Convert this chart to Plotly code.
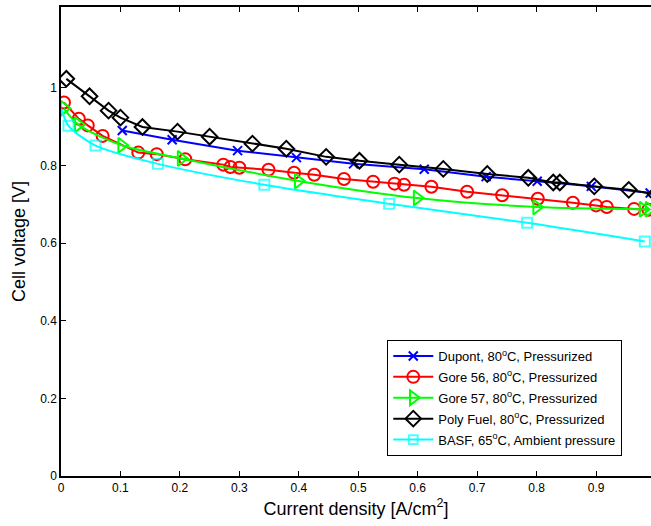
import plotly.graph_objects as go

# Polarization curves: current density [A/cm^2] vs cell voltage [V]
dupont_j = [0.103, 0.187, 0.297, 0.396, 0.492, 0.611, 0.715, 0.801, 0.892, 0.991]
dupont_v = [0.890, 0.866, 0.838, 0.820, 0.804, 0.790, 0.771, 0.759, 0.746, 0.729]

gore56_j = [0.005, 0.030, 0.045, 0.070, 0.130, 0.161, 0.209, 0.273, 0.285, 0.300,
            0.349, 0.392, 0.426, 0.476, 0.525, 0.561, 0.577, 0.623, 0.683, 0.742,
            0.802, 0.861, 0.900, 0.918, 0.964, 0.988]
gore56_v = [0.962, 0.920, 0.903, 0.876, 0.833, 0.829, 0.816, 0.802, 0.796, 0.794,
            0.789, 0.781, 0.776, 0.765, 0.758, 0.753, 0.750, 0.745, 0.732, 0.723,
            0.714, 0.704, 0.697, 0.693, 0.688, 0.686]

gore57_j = [0.005, 0.029, 0.102, 0.202, 0.399, 0.599, 0.800, 0.979, 0.989]
gore57_v = [0.947, 0.905, 0.852, 0.818, 0.760, 0.716, 0.693, 0.687, 0.687]

polyfuel_j = [0.009, 0.048, 0.080, 0.100, 0.137, 0.196, 0.250, 0.322, 0.379, 0.446,
              0.502, 0.569, 0.643, 0.717, 0.786, 0.828, 0.839, 0.897, 0.955, 1.000]
polyfuel_v = [1.023, 0.978, 0.941, 0.923, 0.899, 0.887, 0.874, 0.856, 0.843, 0.822,
              0.812, 0.802, 0.791, 0.778, 0.768, 0.756, 0.756, 0.746, 0.737, 0.726]

# BASF curve starts at zero current (no marker there)
basf_j = [0.001, 0.0126, 0.058, 0.163, 0.342, 0.552, 0.784, 0.982]
basf_v = [0.945, 0.902, 0.851, 0.804, 0.750, 0.701, 0.652, 0.604]
basf_marked = [False, True, True, True, True, True, True, True]

x_ticks = [0, 0.1, 0.2, 0.3, 0.4, 0.5, 0.6, 0.7, 0.8, 0.9]
y_ticks = [0, 0.2, 0.4, 0.6, 0.8, 1.0]
x_tick_text = ["0", "0.1", "0.2", "0.3", "0.4", "0.5", "0.6", "0.7", "0.8", "0.9"]
y_tick_text = ["0", "0.2", "0.4", "0.6", "0.8", "1"]

fig = go.Figure()

def add_series(name, x, y, color, symbol, size, shape="linear", marked=None):
    sizes = size if marked is None else [size if m else 0 for m in marked]
    fig.add_trace(go.Scatter(
        x=x, y=y, name=name, mode="lines+markers", legendgroup=name,
        line=dict(color=color, width=2, shape=shape, smoothing=0.8),
        marker=dict(symbol=symbol, size=sizes, color=color,
                    line=dict(color=color, width=2)),
    ))

add_series("Dupont, 80<sup>o</sup>C, Pressurized", dupont_j, dupont_v,
           "#0000FF", "x-thin-open", 9)
add_series("Gore 56, 80<sup>o</sup>C, Pressurized", gore56_j, gore56_v,
           "#FF0000", "circle-open", 12)
add_series("Gore 57, 80<sup>o</sup>C, Pressurized", gore57_j, gore57_v,
           "#00FF00", "triangle-right-open", 13, shape="spline")
add_series("Poly Fuel, 80<sup>o</sup>C, Pressurized", polyfuel_j, polyfuel_v,
           "#000000", "diamond-open", 12)
add_series("BASF, 65<sup>o</sup>C, Ambient pressure", basf_j, basf_v,
           "#00FFFF", "square-open", 10, shape="spline", marked=basf_marked)

font_family = "Liberation Sans, Arial, sans-serif"

fig.update_layout(
    width=651, height=526,
    margin=dict(l=61, r=0, t=7, b=50),
    paper_bgcolor="white", plot_bgcolor="white",
    font=dict(family=font_family, size=12, color="#000000"),
    showlegend=True,
    legend=dict(
        x=0.553, y=0.29, xanchor="left", yanchor="top",
        bgcolor="white", bordercolor="#000000", borderwidth=1,
        font=dict(family=font_family, size=13, color="#000000"),
        traceorder="grouped", tracegroupgap=1,
        itemwidth=40,
    ),
    xaxis=dict(
        range=[0, 0.9924], tickvals=x_ticks, ticktext=x_tick_text,
        ticks="inside", ticklen=5, tickwidth=1, tickcolor="#000000",
        showline=True, linecolor="#000000", linewidth=1.5, mirror="ticks",
        showgrid=False, zeroline=False,
        title=dict(text="Current density [A/cm<sup>2</sup>]",
                   font=dict(family=font_family, size=18),
                   standoff=8),
    ),
    yaxis=dict(
        range=[0, 1.208], tickvals=y_ticks, ticktext=y_tick_text,
        ticks="inside", ticklen=5, tickwidth=1, tickcolor="#000000",
        showline=True, linecolor="#000000", linewidth=1.5, mirror=False,
        showgrid=False, zeroline=False,
        title=dict(text="Cell voltage [V]",
                   font=dict(family=font_family, size=18),
                   standoff=10),
    ),
)

fig.write_html("out.html")
